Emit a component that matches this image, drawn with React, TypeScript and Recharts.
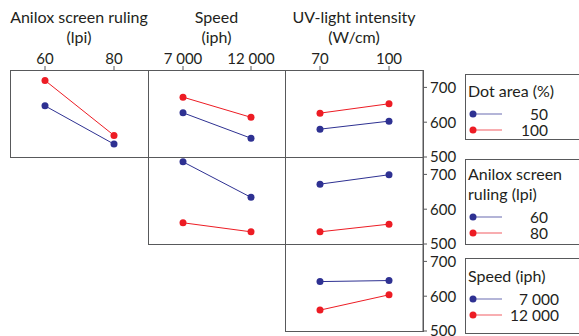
import React from 'react';
import { LineChart, Line, XAxis, YAxis } from 'recharts';

// factor levels
const aniloxLevels = ['60', '80'];
const speedLevels = ['7 000', '12 000'];
const uvLevels = ['70', '100'];
const dotAreaLevels = ['50', '100'];

const yTicks = [500, 600, 700];

// row 1, grouped by dot area (%)
const dot50ByAnilox = [647, 537];
const dot100ByAnilox = [720, 562];
const dot50BySpeed = [627, 554];
const dot100BySpeed = [672, 614];
const dot50ByUv = [580, 603];
const dot100ByUv = [626, 653];

// row 2, grouped by anilox screen ruling (lpi)
const anilox60BySpeed = [736, 634];
const anilox80BySpeed = [561, 535];
const anilox60ByUv = [672, 699];
const anilox80ByUv = [535, 557];

// row 3, grouped by speed (iph)
const speed7000ByUv = [642, 645];
const speed12000ByUv = [560, 604];

const BLUE = '#2e3192';
const RED = '#ed1c24';
const FRAME = '#58595b';
const INK = '#231f20';
const FONT = 'Lato, "Open Sans", sans-serif';

const colX = [10, 148, 285];
const colW = [138, 137, 138];
const rowY = [70, 157, 244];
const rowH = 87;

interface PanelProps {
  col: number;
  row: number;
  levels: string[];
  first: number[];
  second: number[];
}

const Panel: React.FC<PanelProps> = ({ col, row, levels, first, second }) => {
  const data = levels.map((level, i) => ({ level, a: first[i], b: second[i] }));
  const showTop = row === 0;
  const showRight = col === 2;
  const axisH = showTop ? 30 : 0;
  const axisW = showRight ? 44 : 0;
  const bottomRoom = showRight ? 12 : 0; // so the 500 label is not clipped
  const x = colX[col];
  const y = rowY[row];
  const w = colW[col];
  return (
    <>
      <div
        style={{
          position: 'absolute', left: x, top: y, width: w + 1, height: rowH + 1,
          border: `1px solid ${FRAME}`, boxSizing: 'border-box'
        }}
      />
      <div style={{ position: 'absolute', left: x, top: y - axisH }}>
        <LineChart
          width={w + axisW}
          height={rowH + axisH + bottomRoom}
          data={data}
          margin={{ top: 0, right: 0, bottom: bottomRoom, left: 0 }}
        >
          <XAxis
            dataKey="level"
            orientation="top"
            hide={!showTop}
            height={axisH}
            padding={{ left: 35, right: 34 }}
            interval={0}
            axisLine={false}
            tickSize={4}
            tickMargin={2}
            tickLine={{ stroke: FRAME }}
            tick={{ fontSize: 15, fill: INK, fontFamily: FONT }}
          />
          <YAxis
            orientation="right"
            hide={!showRight}
            domain={[500, 750]}
            ticks={yTicks}
            interval={0}
            width={axisW}
            tickSize={4}
            tickMargin={3}
            axisLine={{ stroke: FRAME }}
            tickLine={{ stroke: FRAME }}
            tick={{ fontSize: 15, fill: INK, fontFamily: FONT, textAnchor: 'start' }}
          />
          <Line dataKey="a" stroke={BLUE} strokeWidth={1} dot={{ r: 3.5, fill: BLUE, strokeWidth: 0 }} isAnimationActive={false} />
          <Line dataKey="b" stroke={RED} strokeWidth={1} dot={{ r: 3.5, fill: RED, strokeWidth: 0 }} isAnimationActive={false} />
        </LineChart>
      </div>
    </>
  );
};

interface LegendBoxProps {
  top: number;
  height: number;
  padTop: number;
  textRight: number;
  title: string[];
  levels: string[];
}

const LegendBox: React.FC<LegendBoxProps> = ({ top, height, padTop, textRight, title, levels }) => (
  <div
    style={{
      position: 'absolute', left: 465, top, width: 130, height,
      border: `1px solid ${FRAME}`, boxSizing: 'border-box', paddingTop: padTop,
      fontFamily: FONT, fontSize: 16, color: INK
    }}
  >
    {title.map((t) => (
      <div key={t} style={{ lineHeight: '20px', paddingLeft: 2, whiteSpace: 'nowrap' }}>{t}</div>
    ))}
    <div style={{ marginTop: 5 }}>
      {levels.map((lv, i) => {
        const c = i === 0 ? BLUE : RED;
        return (
          <div key={lv} style={{ position: 'relative', height: 16, lineHeight: '16px' }}>
            <svg width={40} height={16} style={{ position: 'absolute', left: -1, top: 0 }}>
              <line x1={8} y1={8} x2={37} y2={8} stroke={c} strokeOpacity={0.6} strokeWidth={1.2} />
              <circle cx={8} cy={8} r={3.5} fill={c} />
            </svg>
            <div
              style={{
                position: 'absolute', left: 40, width: textRight - 40, textAlign: 'right',
                fontSize: 15.5, whiteSpace: 'nowrap'
              }}
            >
              {lv}
            </div>
          </div>
        );
      })}
    </div>
  </div>
);

const titles = [
  ['Anilox screen ruling', '(lpi)'],
  ['Speed', '(iph)'],
  ['UV-light intensity', '(W/cm)']
];

export default function App() {
  return (
    <div style={{ position: 'absolute', left: 0, top: 0, width: 579, height: 336, background: '#fff', overflow: 'hidden' }}>
      {titles.map((t, i) => (
        <div
          key={t[0]}
          style={{
            position: 'absolute', left: colX[i] - 20, top: 7, width: colW[i] + 40,
            textAlign: 'center', fontFamily: FONT, fontSize: 16, lineHeight: '20px', color: INK
          }}
        >
          {t.map((line) => <div key={line}>{line}</div>)}
        </div>
      ))}

      <Panel col={0} row={0} levels={aniloxLevels} first={dot50ByAnilox} second={dot100ByAnilox} />
      <Panel col={1} row={0} levels={speedLevels} first={dot50BySpeed} second={dot100BySpeed} />
      <Panel col={2} row={0} levels={uvLevels} first={dot50ByUv} second={dot100ByUv} />
      <Panel col={1} row={1} levels={speedLevels} first={anilox60BySpeed} second={anilox80BySpeed} />
      <Panel col={2} row={1} levels={uvLevels} first={anilox60ByUv} second={anilox80ByUv} />
      <Panel col={2} row={2} levels={uvLevels} first={speed7000ByUv} second={speed12000ByUv} />

      <LegendBox top={74} height={66} padTop={6} textRight={82} title={['Dot area (%)']} levels={dotAreaLevels} />
      <LegendBox top={159} height={86} padTop={4} textRight={82} title={['Anilox screen', 'ruling (lpi)']} levels={aniloxLevels} />
      <LegendBox top={258} height={76} padTop={7} textRight={93} title={['Speed (iph)']} levels={speedLevels} />
    </div>
  );
}
